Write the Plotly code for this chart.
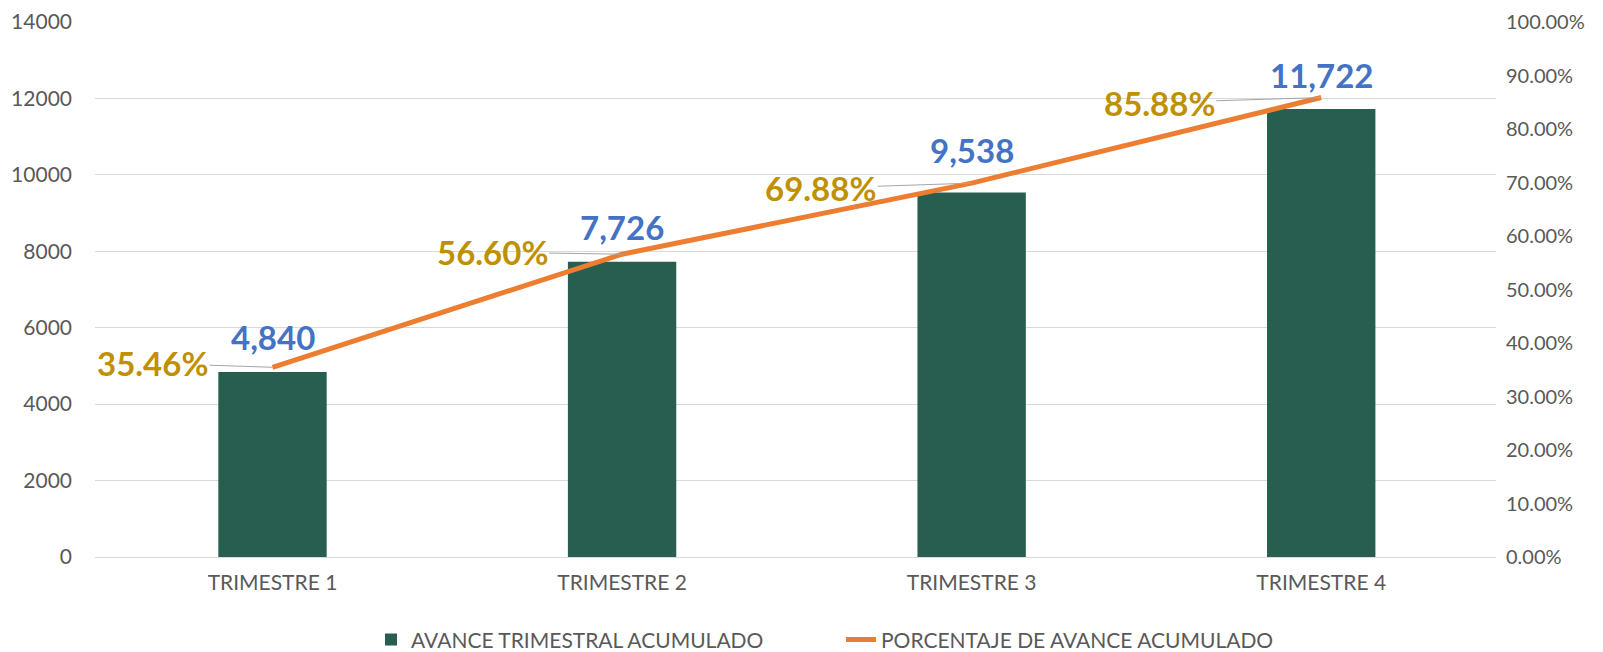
import plotly.graph_objects as go

categories = ["TRIMESTRE 1", "TRIMESTRE 2", "TRIMESTRE 3", "TRIMESTRE 4"]
avance = [4840, 7726, 9538, 11722]
porcentaje = [0.3546, 0.5660, 0.6988, 0.8588]
bar_labels = ["4,840", "7,726", "9,538", "11,722"]
pct_labels = ["35.46%", "56.60%", "69.88%", "85.88%"]

FONT = "Lato"
fig = go.Figure()
fig.add_trace(go.Bar(
    x=categories, y=avance, name="AVANCE TRIMESTRAL ACUMULADO",
    marker=dict(color="#285E4F", line=dict(width=0)), width=0.31,
))
fig.add_trace(go.Scatter(
    x=categories, y=porcentaje, name="PORCENTAJE DE AVANCE ACUMULADO",
    yaxis="y2", mode="lines", line=dict(color="#ED7D31", width=5),
))

bar_shift = [35, 35, 43, 34]
for c, v, t, s in zip(categories, avance, bar_labels, bar_shift):
    fig.add_annotation(x=c, y=v, text=t, showarrow=False, yshift=s,
                       font=dict(family=FONT, size=33, color="#4472C4", weight="bold"))

pct_ax = [-120, -130, -151, -162]
pct_ay = [-4, -2, 5, 5]
for c, v, t, ax, ay in zip(categories, porcentaje, pct_labels, pct_ax, pct_ay):
    fig.add_annotation(x=c, y=v, yref="y2", text=t, showarrow=True,
                       arrowhead=0, arrowwidth=1, arrowcolor="#A6A6A6",
                       ax=ax, ay=ay,
                       font=dict(family=FONT, size=33, color="#BF9000", weight="bold"))

fig.update_layout(
    width=1595, height=644,
    margin=dict(l=87, r=107, t=14, b=95, autoexpand=False),
    paper_bgcolor="white", plot_bgcolor="white",
    font=dict(family=FONT, color="#595959", size=21),
    bargap=0.69,
    xaxis=dict(showgrid=False, showline=True, linecolor="#D9D9D9", linewidth=1,
               tickfont=dict(family=FONT, size=21, color="#595959"), ticks="",
               ticklabelstandoff=7),
    yaxis=dict(range=[0, 14000], dtick=2000, tickformat="d", showgrid=True,
               gridcolor="#D9D9D9", gridwidth=1, zeroline=False,
               tickfont=dict(family=FONT, size=21, color="#595959"),
               ticklabelstandoff=22),
    yaxis2=dict(range=[0, 1], dtick=0.1, overlaying="y", side="right",
                tickformat=".2%", showgrid=False, zeroline=False,
                tickfont=dict(family=FONT, size=20, color="#595959"),
                ticklabelstandoff=9),
    legend=dict(orientation="h", x=0.197, xanchor="left", y=-0.155, yanchor="middle",
                font=dict(family=FONT, size=21, color="#595959"), traceorder="normal",
                itemwidth=30, entrywidth=425, entrywidthmode="pixels"),
    showlegend=True,
)

fig.write_html("out.html")
